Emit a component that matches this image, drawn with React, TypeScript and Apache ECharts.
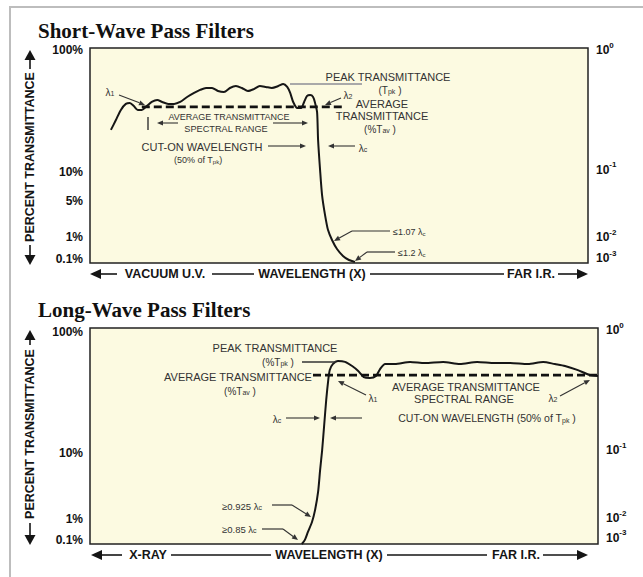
import React, { useEffect, useRef } from 'react';
import * as echarts from 'echarts';

// ---- Short-wave pass filter (schematic wavelength 0-100, schematic transmittance level 0-100)
const swWavelength = [4.2, 5.2, 6.2, 7.2, 8.0, 8.8, 9.6, 10.4, 11.4, 12.4, 13.5, 14.5, 15.7, 16.9, 18.1, 19.5, 20.9, 22.1, 23.3, 24.5, 25.7, 26.9, 28.1, 29.3, 30.5, 31.7, 32.9, 34.1, 35.3, 36.5, 37.8, 38.8, 39.6, 40.2, 40.8, 41.6, 42.4, 43.0, 43.6, 44.2, 44.8, 45.2, 45.6, 45.8, 46.2, 46.6, 47.2, 47.8, 48.6, 49.6, 50.8, 52.0, 53.2];
const swLevel = [61.9, 66.5, 71.2, 74.0, 74.4, 73.0, 71.2, 71.2, 73.0, 74.9, 75.8, 74.9, 74.0, 74.0, 74.9, 77.2, 79.1, 80.5, 81.4, 81.4, 80.0, 79.5, 81.4, 82.3, 81.4, 80.0, 80.9, 82.3, 81.9, 81.4, 82.3, 83.3, 81.9, 79.1, 74.9, 72.1, 72.1, 74.9, 77.7, 78.1, 77.2, 74.4, 70.2, 57.2, 43.3, 31.6, 22.3, 15.3, 10.7, 6.5, 3.3, 1.4, 0.5];
const swAvgRange = [10.4, 50.8];
const swAvgLevel = 72.6;

// ---- Long-wave pass filter
const lwWavelength = [41.7, 42.3, 42.9, 43.7, 44.3, 44.9, 45.3, 45.7, 46.1, 46.5, 46.9, 47.2, 47.8, 48.8, 50.2, 51.6, 52.8, 53.9, 55.1, 56.3, 57.1, 58.1, 60.0, 63.0, 65.9, 69.5, 72.8, 76.2, 79.7, 82.7, 86.2, 89.2, 91.5, 93.5, 95.9, 98.4, 100];
const lwLevel = [0, 1.9, 5.6, 10.2, 15.7, 24.1, 34.3, 43.5, 55.1, 66.7, 75.9, 80.6, 83.3, 84.7, 84.3, 82.4, 80.1, 77.3, 76.9, 77.8, 81.0, 83.3, 83.3, 84.3, 83.8, 84.3, 83.3, 84.3, 83.8, 83.8, 83.3, 84.3, 83.3, 82.4, 80.6, 78.2, 77.8];
const lwAvgRange = [43.9, 100];
const lwAvgLevel = 78.2;

// ---- Tick labels (schematic levels where each label sits)
const swLeftTicks = [2, 12, 29, 42.5, 99];
const swLeftLabels = ['0.1%', '1%', '5%', '10%', '100%'];
const swRightTicks = [2.3, 12, 43.3, 99];
const lwLeftTicks = [2, 11.5, 42, 98];
const lwLeftLabels = ['0.1%', '1%', '10%', '100%'];
const lwRightTicks = [2.8, 12, 43.5, 99];
const rightLabels = ['{n|10}{s|-3}', '{n|10}{s|-2}', '{n|10}{s|-1}', '{n|10}{s|0}'];

const SANS = '"Liberation Sans", Arial, Helvetica, sans-serif';
const SERIF = '"Liberation Serif", "Times New Roman", serif';
const INK = '#151515';
const NOTE = '#333333';

function note(text: string, x: number, y: number, size: number, align: string = 'center'): any {
  const sub = Math.max(6, Math.round(size * 0.7));
  return {
    type: 'text', x, y, silent: true, z: 20,
    style: {
      text, fill: NOTE, fontSize: size, fontFamily: SANS,
      align, textAlign: align, verticalAlign: 'middle', textVerticalAlign: 'middle',
      rich: {
        b: { fontSize: sub, fontFamily: SANS, fill: NOTE, color: NOTE, verticalAlign: 'bottom' },
      },
    },
  };
}

function bold(text: string, x: number, y: number, size = 12.5): any {
  return {
    type: 'text', x, y, silent: true, z: 20,
    style: {
      text, fill: INK, fontSize: size, fontWeight: 'bold', fontFamily: SANS,
      align: 'center', textAlign: 'center', verticalAlign: 'middle', textVerticalAlign: 'middle',
    },
  };
}

function seg(x1: number, y1: number, x2: number, y2: number, w = 1.2, color = NOTE): any {
  return { type: 'line', silent: true, z: 20, shape: { x1, y1, x2, y2 }, style: { stroke: color, lineWidth: w } };
}

function head(tx: number, ty: number, ang: number, len: number, half: number, color: string): any {
  const bx = tx - len * Math.cos(ang);
  const by = ty - len * Math.sin(ang);
  const px = -Math.sin(ang) * half;
  const py = Math.cos(ang) * half;
  return {
    type: 'polygon', silent: true, z: 20,
    shape: { points: [[tx, ty], [bx + px, by + py], [bx - px, by - py]] },
    style: { fill: color },
  };
}

function arrow(x1: number, y1: number, x2: number, y2: number, w = 1.1, len = 6, half = 2.6, color = NOTE): any[] {
  const ang = Math.atan2(y2 - y1, x2 - x1);
  const bx = x2 - len * Math.cos(ang);
  const by = y2 - len * Math.sin(ang);
  return [seg(x1, y1, bx, by, w, color), head(x2, y2, ang, len, half, color)];
}

function yTitle(cx: number, tipTop: number, textTop: number, textBottom: number, tipBottom: number): any[] {
  const mid = (textTop + textBottom) / 2;
  return [
    head(cx, tipTop, -Math.PI / 2, 10, 5.5, INK),
    seg(cx, tipTop + 9, cx, textTop - 3, 1.6, INK),
    {
      type: 'text', x: cx, y: mid, rotation: Math.PI / 2, silent: true, z: 20,
      style: {
        text: 'PERCENT TRANSMITTANCE', fill: INK, fontSize: 12.5, fontWeight: 'bold', fontFamily: SANS,
        align: 'center', textAlign: 'center', verticalAlign: 'middle', textVerticalAlign: 'middle',
      },
    },
    seg(cx, textBottom + 3, cx, tipBottom - 9, 1.6, INK),
    head(cx, tipBottom, Math.PI / 2, 10, 5.5, INK),
  ];
}

function buildGraphic(): any[] {
  const g: any[] = [];
  // outer frame
  g.push({ type: 'rect', silent: true, z: 0, shape: { x: 10, y: 7, width: 700, height: 700 }, style: { fill: 'none', stroke: '#bdbdbd', lineWidth: 2 } });
  // titles
  g.push({ type: 'text', x: 38, y: 31, silent: true, style: { text: 'Short-Wave Pass Filters', fill: '#111', fontSize: 21, fontWeight: 'bold', fontFamily: SERIF, align: 'left', textAlign: 'left', verticalAlign: 'middle', textVerticalAlign: 'middle' } });
  g.push({ type: 'text', x: 38, y: 310, silent: true, style: { text: 'Long-Wave Pass Filters', fill: '#111', fontSize: 21, fontWeight: 'bold', fontFamily: SERIF, align: 'left', textAlign: 'left', verticalAlign: 'middle', textVerticalAlign: 'middle' } });

  // y-axis titles
  g.push(...yTitle(30, 50, 72, 242, 265));
  g.push(...yTitle(30, 330, 348, 520, 545));

  // wavelength bars
  const y1 = 274;
  g.push(head(90, y1, Math.PI, 11, 5, INK), seg(99, y1, 117, y1, 1.6, INK));
  g.push(bold('VACUUM U.V.', 165, y1), seg(212, y1, 254, y1, 1.6, INK));
  g.push(bold('WAVELENGTH (X)', 312, y1), seg(370, y1, 504, y1, 1.6, INK));
  g.push(bold('FAR I.R.', 531, y1), seg(558, y1, 579, y1, 1.6, INK), head(588, y1, 0, 11, 5, INK));
  const y2 = 555;
  g.push(head(91, y2, Math.PI, 11, 5, INK), seg(100, y2, 122, y2, 1.6, INK));
  g.push(bold('X-RAY', 148, y2), seg(171, y2, 271, y2, 1.6, INK));
  g.push(bold('WAVELENGTH (X)', 329, y2), seg(387, y2, 487, y2, 1.6, INK));
  g.push(bold('FAR I.R.', 516, y2), seg(543, y2, 579, y2, 1.6, INK), head(588, y2, 0, 11, 5, INK));

  // ---- short-wave annotations
  g.push(seg(290, 84, 362, 84, 2, '#a9a9a9'));
  g.push(note('PEAK TRANSMITTANCE', 388, 77, 11));
  g.push(note('(T{b|pk} )', 390, 90, 10));
  g.push(note('λ{b|2}', 348, 95, 10));
  g.push(...arrow(341, 98, 325, 105));
  g.push(note('AVERAGE', 382, 104, 11));
  g.push(note('TRANSMITTANCE', 382, 116, 11));
  g.push(note('(%T{b|av} )', 380, 129, 10));
  g.push(...arrow(355, 146, 328, 146));
  g.push(note('λ{b|c}', 363, 148, 10));
  g.push(note('λ{b|1}', 110, 92, 10));
  g.push(...arrow(119, 95, 145, 105));
  g.push(seg(148, 117, 148, 130, 1.4));
  g.push(...arrow(178, 123, 157, 123));
  g.push(...arrow(273, 123, 308, 123));
  g.push(note('AVERAGE TRANSMITTANCE', 229, 117, 9));
  g.push(note('SPECTRAL RANGE', 226, 129, 9.2));
  g.push(note('CUT-ON WAVELENGTH', 202, 147, 11));
  g.push(...arrow(268, 146, 306, 146));
  g.push(note('(50% of T{b|pk})', 198, 160, 9));
  g.push(note('≤1.07 λ{b|c}', 393, 232, 9, 'left'));
  g.push(seg(390, 231, 352, 231), ...arrow(352, 231, 334, 241));
  g.push(note('≤1.2 λ{b|c}', 398, 253, 9, 'left'));
  g.push(seg(395, 252, 367, 252), ...arrow(367, 252, 355, 261));

  // ---- long-wave annotations
  g.push(note('PEAK TRANSMITTANCE', 275, 348, 11));
  g.push(note('(%T{b|pk} )', 278, 362, 10));
  g.push(seg(302, 362, 336, 362, 1.4));
  g.push(note('AVERAGE TRANSMITTANCE', 238, 377, 11));
  g.push(note('(%T{b|av} )', 240, 391, 10));
  g.push(note('λ{b|c}', 277, 419, 10));
  g.push(...arrow(286, 418, 320, 418));
  g.push(...arrow(362, 418, 330, 418));
  g.push(note('CUT-ON WAVELENGTH (50% of T{b|pk} )', 487, 418, 10.5));
  g.push(note('λ{b|1}', 373, 398, 10));
  g.push(...arrow(366, 395, 338, 381));
  g.push(note('AVERAGE TRANSMITTANCE', 466, 387, 11));
  g.push(note('SPECTRAL RANGE', 464, 399, 11));
  g.push(note('λ{b|2}', 553, 398, 10));
  g.push(...arrow(560, 396, 590, 380));
  g.push(note('≥0.925 λ{b|c}', 222, 506, 9.5, 'left'));
  g.push(seg(272, 505, 292, 505), ...arrow(292, 505, 311, 517));
  g.push(note('≥0.85 λ{b|c}', 222, 529, 9.5, 'left'));
  g.push(seg(262, 529, 283, 529), ...arrow(283, 529, 298, 540));
  return g;
}

function pick(ticks: number[], labels: string[]) {
  return (v: number) => {
    const i = ticks.findIndex((t) => Math.abs(t - v) < 1e-6);
    return i >= 0 ? labels[i] : '';
  };
}

function yAxis(gridIndex: number, position: string, ticks: number[], labels: string[]): any {
  return {
    type: 'value', gridIndex, position, min: 0, max: 100,
    axisLine: { show: false }, axisTick: { show: false }, splitLine: { show: false },
    axisLabel: {
      customValues: ticks,
      formatter: pick(ticks, labels),
      margin: position === 'left' ? 7 : 8,
      color: '#111', fontSize: 12, fontWeight: 'bold', fontFamily: SANS,
      rich: {
        n: { fontSize: 12, fontWeight: 'bold', fontFamily: SANS, color: '#111', lineHeight: 18, verticalAlign: 'middle' },
        s: { fontSize: 8, fontWeight: 'bold', fontFamily: SANS, color: '#111', lineHeight: 10, verticalAlign: 'top' },
      },
    },
  };
}

function xAxis(gridIndex: number): any {
  return {
    type: 'value', gridIndex, min: 0, max: 100,
    axisLine: { show: false }, axisTick: { show: false }, axisLabel: { show: false }, splitLine: { show: false },
  };
}

function curve(xIdx: number, yIdx: number, xs: number[], ys: number[]): any {
  return {
    type: 'line', xAxisIndex: xIdx, yAxisIndex: yIdx, data: xs.map((x, i) => [x, ys[i]]),
    showSymbol: false, smooth: 0.25, silent: true, z: 3,
    lineStyle: { color: '#161616', width: 2 },
  };
}

function dashed(xIdx: number, yIdx: number, range: number[], level: number): any {
  return {
    type: 'line', xAxisIndex: xIdx, yAxisIndex: yIdx, data: [[range[0], level], [range[1], level]],
    showSymbol: false, silent: true, z: 4,
    lineStyle: { color: '#111', width: 2.6, type: [8, 4] },
  };
}

export default function App() {
  const ref = useRef<HTMLDivElement>(null);
  useEffect(() => {
    if (!ref.current) return;
    const chart = echarts.init(ref.current, undefined, { renderer: 'svg' });
    const gridBase = { show: true, backgroundColor: '#fcfae1', borderColor: '#222', borderWidth: 1.5, containLabel: false, outerBoundsMode: 'none' };
    chart.setOption({
      animation: false,
      backgroundColor: '#ffffff',
      grid: [
        { ...gridBase, left: 90, top: 48, width: 498, height: 215 },
        { ...gridBase, left: 90, top: 328, width: 508, height: 216 },
      ],
      xAxis: [xAxis(0), xAxis(1)],
      yAxis: [
        yAxis(0, 'left', swLeftTicks, swLeftLabels),
        yAxis(0, 'right', swRightTicks, rightLabels),
        yAxis(1, 'left', lwLeftTicks, lwLeftLabels),
        yAxis(1, 'right', lwRightTicks, rightLabels),
      ],
      series: [
        curve(0, 0, swWavelength, swLevel),
        dashed(0, 0, swAvgRange, swAvgLevel),
        curve(1, 2, lwWavelength, lwLevel),
        dashed(1, 2, lwAvgRange, lwAvgLevel),
      ],
      graphic: { elements: buildGraphic() },
    } as any);
    return () => chart.dispose();
  }, []);
  return <div ref={ref} style={{ position: 'fixed', left: 0, top: 0, width: 643, height: 577 }} />;
}
